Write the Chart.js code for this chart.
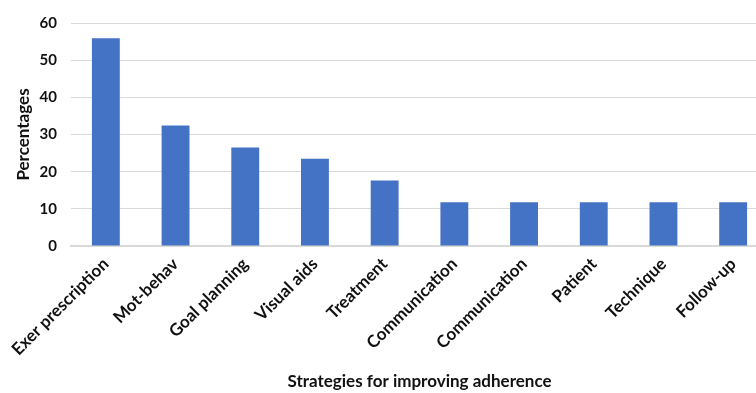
<!DOCTYPE html>
<html>
<head>
<meta charset="utf-8">
<script src="https://cdn.jsdelivr.net/npm/chart.js@4/dist/chart.umd.min.js"></script>
<style>
  html, body { margin: 0; padding: 0; background: #fff; overflow: hidden; }
  #wrap { width: 768px; height: 393px; }
</style>
</head>
<body>
<div id="wrap"><canvas id="c" width="768" height="393"></canvas></div>
<script>
// Share of studies using each strategy (%)
const strategies = [
  'Exer prescription', 'Mot-behav', 'Goal planning', 'Visual aids', 'Treatment',
  'Communication', 'Communication', 'Patient', 'Technique', 'Follow-up'
];
const percentages = [55.9, 32.4, 26.5, 23.5, 17.6, 11.8, 11.8, 11.8, 11.8, 11.8];
const yTicks = [0, 10, 20, 30, 40, 50, 60];

const FONT = 'Lato, "Open Sans", "Liberation Sans", sans-serif';
const INK = '#111111';

new Chart(document.getElementById('c'), {
  type: 'bar',
  data: {
    labels: strategies,
    datasets: [{
      data: percentages,
      backgroundColor: '#4472C4',
      borderWidth: 0,
      categoryPercentage: 1,
      barPercentage: 0.4
    }]
  },
  options: {
    responsive: false,
    animation: false,
    layout: { padding: { top: 19, right: 0, bottom: 1, left: 0 } },
    plugins: { legend: { display: false }, tooltip: { enabled: false } },
    scales: {
      x: {
        grid: { display: false },
        border: { color: '#d9d9d9', width: 2 },
        ticks: {
          color: INK,
          font: { family: FONT, size: 17, weight: 'bold' },
          minRotation: 45, maxRotation: 45, autoSkip: false, padding: 0
        },
        title: {
          display: true,
          text: 'Strategies for improving adherence',
          color: INK,
          font: { family: FONT, size: 17, weight: 'bold' },
          padding: { top: 4, bottom: 0 }
        },
        afterFit: s => { s.height = 146; }
      },
      y: {
        min: 0, max: 60,
        afterBuildTicks: s => { s.ticks = yTicks.map(v => ({ value: v })); },
        grid: { color: '#d9d9d9', lineWidth: 1, drawTicks: false },
        border: { display: false },
        ticks: {
          color: INK,
          font: { family: FONT, size: 15, weight: 'bold' },
          padding: 14
        },
        title: {
          display: true,
          text: 'Percentages',
          color: INK,
          font: { family: FONT, size: 17, weight: 'bold' },
          padding: { top: 13, bottom: 4 }
        },
        afterFit: s => { s.width = 71; }
      }
    }
  }
});
</script>
</body>
</html>
